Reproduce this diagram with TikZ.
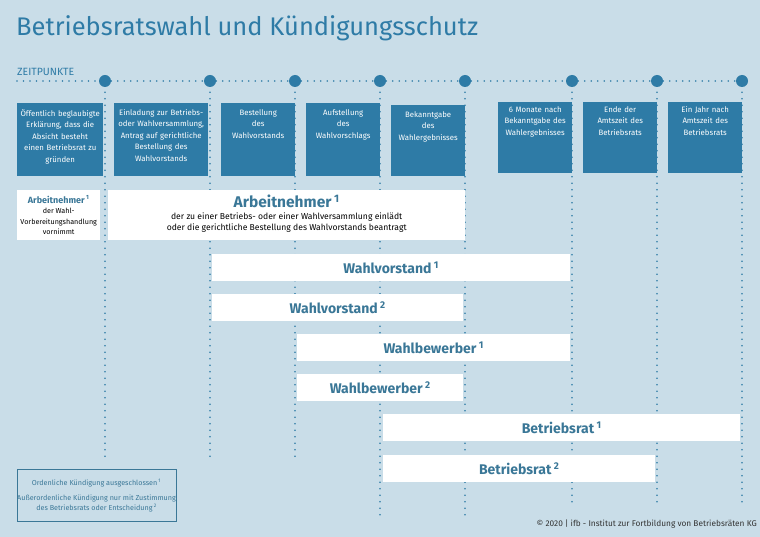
\documentclass[tikz,border=0pt]{standalone}
\usepackage{fontspec}
\setmainfont{Fira Sans}
\usetikzlibrary{positioning}
\definecolor{bg}{HTML}{C9DDE8}
\definecolor{ifbblue}{HTML}{2E7BA6}
\definecolor{ifbtext}{HTML}{3A7797}
\tikzset{
  tp/.style={circle, fill=ifbblue, minimum size=12pt, inner sep=0pt},
  tl/.style={ifbblue, line width=1.8pt, dash pattern=on 0pt off 6.5pt, line cap=round},
  ev/.style={rectangle, fill=ifbblue, text=white, anchor=north west, align=center, inner sep=0pt, font=\fontsize{7.8}{11.5}\selectfont},
  bar/.style={rectangle, fill=white, text=ifbtext, anchor=north west, inner sep=0pt, font=\bfseries\fontsize{14}{15}\selectfont},
  note/.style={rectangle, draw=ifbtext, text=ifbtext, anchor=north west, inner sep=0pt, align=center, font=\fontsize{7.2}{10}\selectfont}
}
\begin{document}
\begin{tikzpicture}[x=1pt, y=-1pt]
	\fill[bg] (0,0) rectangle (760,537);
	\useasboundingbox (0,0) rectangle (760,537);
	\node[anchor=west, ifbblue, font=\fontsize{25.5}{28}\selectfont, inner sep=0pt] (title) at (16,28) {Betriebsratswahl und Kündigungsschutz};
	\node[anchor=west, ifbblue, font=\fontsize{10.5}{11}\selectfont, inner sep=0pt] (zeit) at (17,72) {ZEITPUNKTE};
	% timeline
	\coordinate (t0) at (17,81);
	\foreach \i/\x/\e in {1/105/457, 2/210/457, 3/295/457, 4/380/521, 5/465/521, 6/572/508, 7/657/508, 8/742/508} {
		\coordinate (e\i) at (\x,\e);
	}
	\foreach \i/\x in {1/105, 2/210, 3/295, 4/380, 5/465, 6/572, 7/657, 8/742} {
		\node[tp] (t\i) at (\x,81) {};
		\draw[tl] (t\i.south) ++(0,5) -- (e\i);
	}
	\draw[tl] (t0) -- (t1);
	\foreach \a/\b in {1/2, 2/3, 3/4, 4/5, 5/6, 6/7, 7/8} {
		\draw[tl] (t\a) -- (t\b);
	}
	% events
	\node[ev, text width=86pt, minimum height=73pt] (ev1) at (17,103) {};
	\node[ev, anchor=north, text width=86pt] at ([yshift=-6pt]ev1.north) {Öffentlich beglaubigte\\Erklärung, dass die\\Absicht besteht\\einen Betriebsrat zu\\gründen};
	\node[ev, text width=94pt, minimum height=73pt] (ev2) at (114,103) {};
	\node[ev, anchor=north, text width=94pt] at ([yshift=-6pt]ev2.north) {Einladung zur Betriebs-\\oder Wahlversammlung,\\Antrag auf gerichtliche\\Bestellung des\\Wahlvorstands};
	\node[ev, text width=74pt, minimum height=73pt] (ev3) at (221,103) {};
	\node[ev, anchor=north, text width=74pt] at ([yshift=-6pt]ev3.north) {Bestellung\\des\\Wahlvorstands};
	\node[ev, text width=74pt, minimum height=73pt] (ev4) at (306,103) {};
	\node[ev, anchor=north, text width=74pt] at ([yshift=-6pt]ev4.north) {Aufstellung\\des\\Wahlvorschlags};
	\node[ev, text width=74pt, minimum height=71pt] (ev5) at (391,105) {};
	\node[ev, anchor=north, text width=74pt] at ([yshift=-6pt]ev5.north) {Bekanntgabe\\des\\Wahlergebnisses};
	\node[ev, text width=74pt, minimum height=71pt] (ev6) at (498,102) {};
	\node[ev, anchor=north, text width=74pt] at ([yshift=-4pt]ev6.north) {6 Monate nach\\Bekanntgabe des\\Wahlergebnisses};
	\node[ev, text width=74pt, minimum height=71pt] (ev7) at (583,102) {};
	\node[ev, anchor=north, text width=74pt] at ([yshift=-4pt]ev7.north) {Ende der\\Amtszeit des\\Betriebsrats};
	\node[ev, text width=74pt, minimum height=71pt] (ev8) at (668,102) {};
	\node[ev, anchor=north, text width=74pt] at ([yshift=-4pt]ev8.north) {Ein Jahr nach\\Amtszeit des\\Betriebsrats};
	% persons
	\node[bar, minimum width=83pt, minimum height=50pt] (an0) at (17,190) {};
	\node[anchor=north, align=center, inner sep=0pt, font=\fontsize{7.2}{10.5}\selectfont] at ([yshift=-5pt]an0.north) {{\color{ifbtext}\bfseries\fontsize{9}{10}\selectfont Arbeitnehmer\,\textsuperscript{1}}\\der Wahl-\\Vorbereitungshandlung\\vornimmt};
	\node[bar, minimum width=357pt, minimum height=50pt] (an1) at (108,190) {};
	\node[anchor=north, align=center, inner sep=0pt, font=\fontsize{8.6}{11.5}\selectfont] at ([yshift=-5pt]an1.north) {{\color{ifbtext}\bfseries\fontsize{15.5}{19}\selectfont Arbeitnehmer\,\textsuperscript{1}}\\der zu einer Betriebs- oder einer Wahlversammlung einlädt\\oder die gerichtliche Bestellung des Wahlvorstands beantragt};
	\node[bar, minimum width=358pt, minimum height=27pt] (wv1) at (212,254) {Wahlvorstand\,\textsuperscript{1}};
	\node[bar, minimum width=251pt, minimum height=27pt] (wv2) at (212,294) {Wahlvorstand\,\textsuperscript{2}};
	\node[bar, minimum width=273pt, minimum height=27pt] (wb1) at (297,334) {Wahlbewerber\,\textsuperscript{1}};
	\node[bar, minimum width=166pt, minimum height=27pt] (wb2) at (297,374) {Wahlbewerber\,\textsuperscript{2}};
	\node[bar, minimum width=357pt, minimum height=27pt] (br1) at (383,414) {Betriebsrat\,\textsuperscript{1}};
	\node[bar, minimum width=272pt, minimum height=27pt] (br2) at (383,455) {Betriebsrat\,\textsuperscript{2}};
	% legend
	\node[note, minimum width=155pt, minimum height=52pt] (leg) at (17,469) {Ordenliche Kündigung ausgeschlossen\,\textsuperscript{1}\\[5pt]Außerordenliche Kündigung nur mit Zustimmung\\des Betriebsrats oder Entscheidung\,\textsuperscript{2}};
	\node[anchor=east, inner sep=0pt, text=black!80, font=\fontsize{8.3}{9}\selectfont] (copy) at (757,524) {© 2020 | ifb - Institut zur Fortbildung von Betriebsräten KG};
\end{tikzpicture}
\end{document}
